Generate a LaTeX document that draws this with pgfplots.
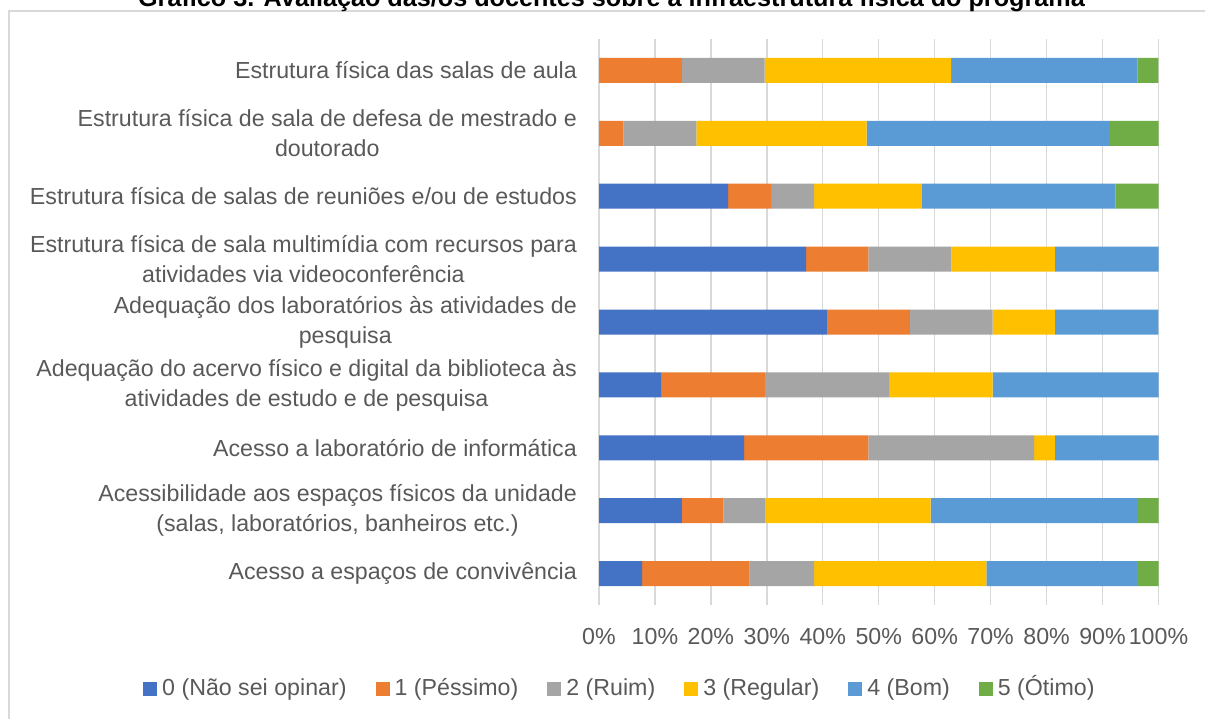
\documentclass[border=0pt]{standalone}
\usepackage{fontspec}
\setmainfont{Liberation Sans}
\usepackage{pgfplots}
\usepackage{pgfplotstable}
\pgfplotsset{compat=1.18}
\definecolor{c0}{HTML}{4472C4}
\definecolor{c1}{HTML}{ED7D31}
\definecolor{c2}{HTML}{A5A5A5}
\definecolor{c3}{HTML}{FFC000}
\definecolor{c4}{HTML}{5B9BD5}
\definecolor{c5}{HTML}{70AD47}
\definecolor{txt}{HTML}{595959}
\definecolor{gridc}{HTML}{D9D9D9}

\pgfplotstableread{
row c0 c1 c2 c3 c4 c5
0 0 14.81 14.81 33.33 33.33 3.70
1 0 4.35 13.04 30.43 43.48 8.70
2 23.08 7.69 7.69 19.23 34.62 7.69
3 37.04 11.11 14.81 18.52 18.52 0
4 40.74 14.81 14.81 11.11 18.52 0
5 11.11 18.52 22.22 18.52 29.63 0
6 25.93 22.22 29.63 3.70 18.52 0
7 14.81 7.41 7.41 29.63 37.04 3.70
8 7.69 19.23 11.54 30.77 26.92 3.85
}\data

\begin{document}
\begin{tikzpicture}
\draw[gridc, line width=1.3bp] (9bp,-5bp) -- (9bp,708bp) -- (1215bp,708bp);
\node[anchor=base, inner sep=0pt, font=\bfseries\fontsize{25.2bp}{30bp}\selectfont] at (611.5bp,712bp) {Gráfico 3. Avaliação das/os docentes sobre a infraestrutura física do programa};
\begin{axis}[
  at={(599bp,114bp)}, anchor=south west,
  width=559.5bp, height=566bp, scale only axis,
  xbar stacked, bar width=25bp,
  xmin=0, xmax=100, ymin=-0.5, ymax=8.5, y dir=reverse,
  axis line style={draw=none},
  xmajorgrids, grid style={gridc, line width=1.3bp},
  major tick length=0pt,
  xtick={0,10,...,100},
  xticklabels={0\%,10\%,20\%,30\%,40\%,50\%,60\%,70\%,80\%,90\%,100\%},
  ytick={0,...,8},
  yticklabels={
    {Estrutura física das salas de aula},
    {Estrutura física de sala de defesa de mestrado e\\doutorado},
    {Estrutura física de salas de reuniões e/ou de estudos},
    {Estrutura física de sala multimídia com recursos para\\atividades via videoconferência},
    {Adequação dos laboratórios às atividades de\\pesquisa},
    {Adequação do acervo físico e digital da biblioteca às\\atividades de estudo e de pesquisa},
    {Acesso a laboratório de informática},
    {Acessibilidade aos espaços físicos da unidade\\(salas, laboratórios, banheiros etc.)},
    {Acesso a espaços de convivência}},
  tick label style={font=\fontsize{23.2bp}{30bp}\selectfont, text=txt},
  xticklabel style={inner sep=0pt, yshift=-23bp},
  yticklabel style={align=center, inner sep=0pt, xshift=-22bp},
  legend columns=-1,
  legend image code/.code={\fill[#1] (0bp,-7bp) rectangle (14bp,7bp);},
  legend style={at={(axis description cs:-0.815,-0.1484)}, anchor=west,
    draw=none, fill=none, inner sep=0pt,
    font=\fontsize{23.2bp}{28bp}\selectfont, text=txt,
    nodes={inner sep=0pt, text height=17bp, text depth=5bp},
    /tikz/every odd column/.append style={column sep=5bp},
    /tikz/every even column/.append style={column sep=29bp}},
]
\addplot[fill=c0, draw=none] table[x=c0, y=row] {\data};
\addplot[fill=c1, draw=none] table[x=c1, y=row] {\data};
\addplot[fill=c2, draw=none] table[x=c2, y=row] {\data};
\addplot[fill=c3, draw=none] table[x=c3, y=row] {\data};
\addplot[fill=c4, draw=none] table[x=c4, y=row] {\data};
\addplot[fill=c5, draw=none] table[x=c5, y=row] {\data};
\legend{0 (Não sei opinar),1 (Péssimo),2 (Ruim),3 (Regular),4 (Bom),5 (Ótimo)}
\end{axis}
\pgfresetboundingbox
\path[use as bounding box] (0,0) rectangle (1205bp,719bp);
\end{tikzpicture}
\end{document}
